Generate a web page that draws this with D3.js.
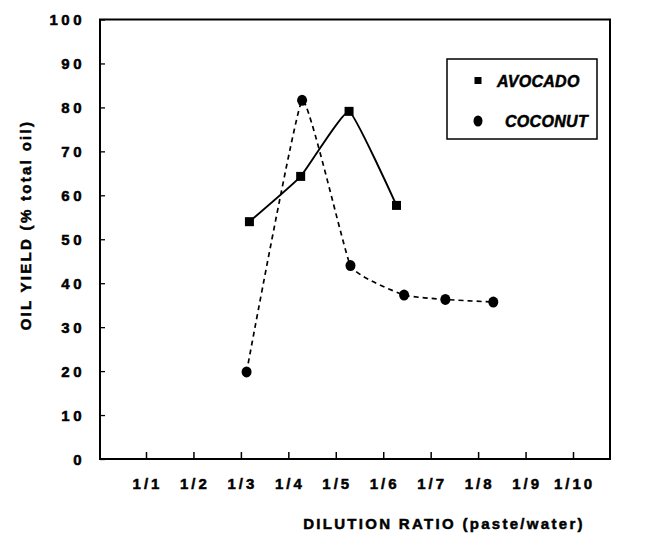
<!DOCTYPE html>
<html>
<head>
<meta charset="utf-8">
<script src="https://cdn.jsdelivr.net/npm/d3@7"></script>
<style>
  body { margin: 0; background: #fff; }
  svg { display: block; }
  text { font-family: "Liberation Sans", Arial, sans-serif; font-weight: bold; fill: #000; stroke: #000; stroke-width: 0.5px; }
  .tick-label { font-size: 15px; letter-spacing: 3.5px; }
  .axis-title { font-size: 15px; letter-spacing: 2.3px; }
  .legend-text { font-size: 16px; font-style: italic; letter-spacing: 0.3px; }
</style>
</head>
<body>
<svg id="chart" width="649" height="533"></svg>
<script>
// dilution ratio categories (1/1 ... 1/10)
const ratios = ['1/1', '1/2', '1/3', '1/4', '1/5', '1/6', '1/7', '1/8', '1/9', '1/10'];
const yTicks = [0, 10, 20, 30, 40, 50, 60, 70, 80, 90, 100];

// points are plotted a little off the ticks in the original, so x is the water part as read
const avocadoX = [3.18, 4.26, 5.28, 6.28];
const avocadoY = [54.0, 64.3, 79.1, 57.7];

const coconutX = [3.12, 4.29, 5.31, 6.44, 7.31, 8.32];
const coconutY = [19.8, 81.6, 44.0, 37.3, 36.3, 35.7];

const svg = d3.select('#chart');

const box = { left: 100, right: 610, top: 19.5, bottom: 459 };

const x = d3.scaleLinear()
  .domain([1, 10])
  .range([146, 573]);

const y = d3.scaleLinear()
  .domain([0, 100])
  .range([box.bottom, box.top]);

// frame
svg.append('rect')
  .attr('x', box.left)
  .attr('y', box.top)
  .attr('width', box.right - box.left)
  .attr('height', box.bottom - box.top)
  .attr('fill', 'none')
  .attr('stroke', '#000')
  .attr('stroke-width', 2);

// y axis: ticks point inwards
const yAxis = svg.append('g')
  .attr('transform', `translate(${box.left},0)`)
  .call(d3.axisRight(y).tickValues(yTicks).tickSize(5).tickFormat(''));
yAxis.select('.domain').remove();
yAxis.selectAll('line').attr('stroke-width', 1.3);

svg.selectAll('.ylab')
  .data(yTicks)
  .enter()
  .append('text')
  .attr('class', 'tick-label')
  .attr('x', 85)
  .attr('y', (d) => y(d) + 5.5)
  .attr('text-anchor', 'end')
  .text((d) => d);

// x axis
const xAxis = svg.append('g')
  .attr('transform', `translate(0,${box.bottom})`)
  .call(d3.axisTop(x).tickValues(d3.range(1, 11)).tickSize(7).tickFormat(''));
xAxis.select('.domain').remove();
xAxis.selectAll('line').attr('stroke-width', 1.5);

svg.selectAll('.xlab')
  .data(ratios)
  .enter()
  .append('text')
  .attr('class', 'tick-label')
  .attr('x', (d, i) => x(i + 1) + 1.5)
  .attr('y', 489)
  .attr('text-anchor', 'middle')
  .style('letter-spacing', '3px')
  .text((d) => d);

// axis titles
svg.append('text')
  .attr('class', 'axis-title')
  .attr('x', 444)
  .attr('y', 529)
  .attr('text-anchor', 'middle')
  .text('DILUTION RATIO (paste/water)');

svg.append('text')
  .attr('class', 'axis-title')
  .attr('transform', 'translate(31,225) rotate(-90)')
  .attr('text-anchor', 'middle')
  .text('OIL YIELD (% total oil)');

// series
const line = d3.line()
  .x((d) => x(d[0]))
  .y((d) => y(d[1]))
  .curve(d3.curveCardinal.tension(0.65));

const avocado = avocadoX.map((v, i) => [v, avocadoY[i]]);
const coconut = coconutX.map((v, i) => [v, coconutY[i]]);

svg.append('path')
  .datum(coconut)
  .attr('d', line)
  .attr('fill', 'none')
  .attr('stroke', '#000')
  .attr('stroke-width', 1.7)
  .attr('stroke-dasharray', '5,4');

svg.append('path')
  .datum(avocado)
  .attr('d', line)
  .attr('fill', 'none')
  .attr('stroke', '#000')
  .attr('stroke-width', 1.9);

svg.selectAll('.sq')
  .data(avocado)
  .enter()
  .append('rect')
  .attr('x', (d) => x(d[0]) - 4.5)
  .attr('y', (d) => y(d[1]) - 4.5)
  .attr('width', 9)
  .attr('height', 9)
  .attr('fill', '#000');

svg.selectAll('.dot')
  .data(coconut)
  .enter()
  .append('ellipse')
  .attr('cx', (d) => x(d[0]))
  .attr('cy', (d) => y(d[1]))
  .attr('rx', 5)
  .attr('ry', 5.5)
  .attr('fill', '#000');

// legend
const legend = svg.append('g');
legend.append('rect')
  .attr('x', 447)
  .attr('y', 59)
  .attr('width', 150)
  .attr('height', 80)
  .attr('fill', '#fff')
  .attr('stroke', '#000')
  .attr('stroke-width', 1.5);

legend.append('rect')
  .attr('x', 474.5)
  .attr('y', 77)
  .attr('width', 7)
  .attr('height', 7)
  .attr('fill', '#000');
legend.append('text')
  .attr('class', 'legend-text')
  .attr('x', 497)
  .attr('y', 87)
  .text('AVOCADO');

legend.append('ellipse')
  .attr('cx', 478)
  .attr('cy', 121)
  .attr('rx', 4.5)
  .attr('ry', 5.5)
  .attr('fill', '#000');
legend.append('text')
  .attr('class', 'legend-text')
  .attr('x', 505)
  .attr('y', 127)
  .text('COCONUT');
</script>
</body>
</html>
